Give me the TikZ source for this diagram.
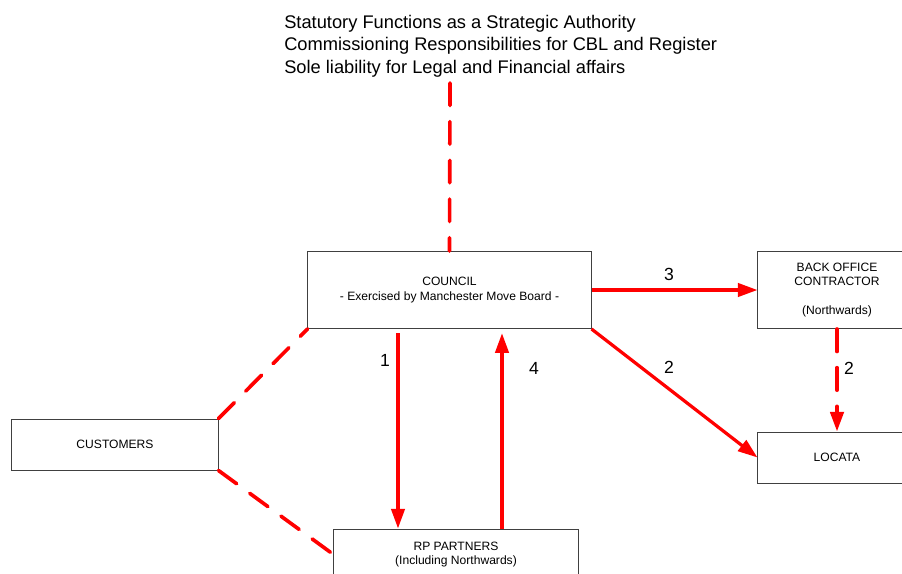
\documentclass[tikz,border=0pt]{standalone}
\usepackage{fontspec}
\setmainfont{Liberation Sans}
\usetikzlibrary{arrows.meta}

\colorlet{link red}{red}
\colorlet{box edge}{black!75}
\def\boxfont{\fontsize{8.6}{10.3}\selectfont}
\def\bigfont{\fontsize{13}{16}\selectfont}
\tikzset{unit/.style={draw=box edge, line width=0.7pt, align=center, inner sep=0pt, font=\boxfont},
    link/.style={draw=link red, line width=2.3pt, -{Triangle[length=14pt,width=9.5pt]}},
    loose link/.style={draw=link red, line width=2.6pt, line cap=round, dash pattern=on 16pt off 11.5pt},
    tag/.style={font=\fontsize{12.5}{15}\selectfont, inner sep=0pt}}

\begin{document}
\begin{tikzpicture}[x=0.025cm, y=-0.025cm]
    \clip (0,0) rectangle (902,573);

    \node[align=left, anchor=north west, inner sep=0pt, font=\bigfont] (duties) at (284,14.5)
        {Statutory Functions as a Strategic Authority\\
         Commissioning Responsibilities for CBL and Register\\
         Sole liability for Legal and Financial affairs};
    \coordinate (dutiesfoot) at (450,83);

    \node[unit, minimum width=7.075cm, minimum height=1.925cm] (council) at (449.5,290)
        {COUNCIL\\- Exercised by Manchester Move Board -};
    \node[unit, minimum width=3.95cm, minimum height=1.925cm] (backoffice) at (837,290)
        {BACK OFFICE\\CONTRACTOR\\ \\(Northwards)};
    \node[unit, minimum width=3.95cm, minimum height=1.275cm] (locata) at (837,457.5) {LOCATA};
    \node[unit, minimum width=5.15cm, minimum height=1.275cm] (customers) at (115,444.5) {CUSTOMERS};
    \node[unit, minimum width=6.1cm, minimum height=1.275cm] (rp) at (456,554.5)
        {RP PARTNERS\\(Including Northwards)};

    \coordinate (onex) at (398,0);
    \coordinate (fourx) at (502,0);

    \draw[loose link] (dutiesfoot) -- (council.north);
    \draw[loose link] (customers.north east) -- (council.south west);
    \draw[loose link] (customers.south east) -- (rp.west);
    \draw[loose link, -{Triangle[length=14pt,width=9.5pt]}] (backoffice.south) -- (locata.north);

    \draw[link] (council.east) -- (council.east -| backoffice.west);
    \draw[link] (council.south east) -- (locata.west);
    \draw[link, shorten <=3pt] (onex |- council.south) -- (onex |- rp.north);
    \draw[link, shorten >=3pt] (fourx |- rp.north) -- (fourx |- council.south);

    \node[tag] (tag3) at (669,274) {3};
    \node[tag] (tag2a) at (669,367) {2};
    \node[tag] (tag2b) at (849,368) {2};
    \node[tag] (tag1) at (385,360) {1};
    \node[tag] (tag4) at (534,368) {4};
\end{tikzpicture}
\end{document}
